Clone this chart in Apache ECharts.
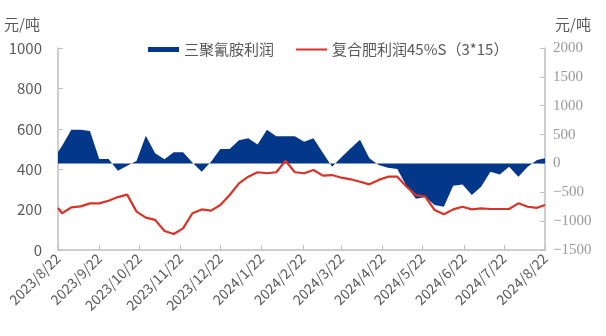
<!DOCTYPE html>
<html>
<head>
<meta charset="utf-8">
<script src="https://cdn.jsdelivr.net/npm/echarts@6/dist/echarts.min.js"></script>
<style>
html,body{margin:0;padding:0;background:#fff;}
#chart{width:606px;height:336px;}
</style>
</head>
<body>
<div id="chart"></div>
<script>
// Dates of observations
var dates = [
  '2023-08-22','2023-08-25','2023-09-01','2023-09-08','2023-09-15','2023-09-22','2023-09-29',
  '2023-10-06','2023-10-13','2023-10-20','2023-10-27','2023-11-03','2023-11-10','2023-11-17',
  '2023-11-24','2023-12-01','2023-12-08','2023-12-15','2023-12-22','2023-12-29','2024-01-05',
  '2024-01-12','2024-01-19','2024-01-26','2024-02-02','2024-02-09','2024-02-16','2024-02-23',
  '2024-03-01','2024-03-08','2024-03-15','2024-03-22','2024-03-29','2024-04-05','2024-04-12',
  '2024-04-19','2024-04-26','2024-05-03','2024-05-10','2024-05-17','2024-05-24','2024-05-31',
  '2024-06-07','2024-06-14','2024-06-21','2024-06-28','2024-07-05','2024-07-12','2024-07-19',
  '2024-07-26','2024-08-02','2024-08-09','2024-08-16','2024-08-22'
];
// 三聚氰胺利润 (right axis)
var melamineProfit = [
  200, 300, 584, 584, 561, 76, 76, -126, -40, 42, 480, 175, 71, 192,
  192, 15, -144, 30, 250, 250, 400, 435, 330, 584, 470, 470, 470,
  376, 435, 186, -57, 106, 262, 411, 88, -28, -74, -97, -395, -610,
  -580, -720, -750, -386, -363, -548, -404, -144, -190, -57, -230, -57, 59, 88
];
// 复合肥利润45%S（3*15） (left axis)
var compoundProfit = [
  209, 182, 211, 216, 231, 231, 244, 262, 274, 190, 160, 149, 94, 79,
  107, 182, 201, 195, 223, 272, 330, 363, 385, 380, 385, 442, 385,
  380, 396, 368, 371, 358, 350, 338, 325, 347, 363, 363, 313, 272,
  264, 198, 177, 201, 214, 201, 206, 203, 203, 203, 231, 214, 209, 223
];
// x-axis tick dates
var tickDates = [
  '2023-08-22','2023-09-22','2023-10-22','2023-11-22','2023-12-22','2024-01-22','2024-02-22',
  '2024-03-22','2024-04-22','2024-05-22','2024-06-22','2024-07-22','2024-08-22'
];
var seriesNames = ['三聚氰胺利润', '复合肥利润45%S（3*15）'];
var unitName = '元/吨';

function ts(s) {
  var p = s.split('-');
  return Date.UTC(+p[0], +p[1] - 1, +p[2]);
}
var tickTs = tickDates.map(ts);
var blueData = dates.map(function (d, i) { return [ts(d), melamineProfit[i]]; });
var redData = dates.map(function (d, i) { return [ts(d), compoundProfit[i]]; });

var BLUE = '#02378a';
var RED = '#d93327';
var AXIS = '#bfbfbf';
var TXT = '#595959';
var SANS = '"Noto Sans CJK SC", "Noto Sans", sans-serif';

var chart = echarts.init(document.getElementById('chart'), null, {renderer: 'canvas'});
chart.setOption({
  animation: false,
  backgroundColor: '#ffffff',
  textStyle: {fontFamily: SANS},
  grid: {left: 58, right: 61, top: 48, bottom: 86, containLabel: false},
  legend: {
    left: 148, top: 42, padding: 0,
    itemWidth: 31, itemHeight: 5, itemGap: 21,
    textStyle: {color: TXT, fontSize: 15, fontFamily: SANS},
    data: [
      {name: seriesNames[0], icon: 'rect'},
      {name: seriesNames[1], itemStyle: {opacity: 0, borderWidth: 0}}
    ]
  },
  xAxis: {
    type: 'value',
    min: tickTs[0],
    max: tickTs[tickTs.length - 1],
    axisLine: {lineStyle: {color: AXIS, width: 1.5}},
    axisTick: {show: true, inside: true, length: 5, lineStyle: {color: AXIS, width: 1}, customValues: tickTs},
    splitLine: {show: false},
    axisLabel: {
      customValues: tickTs,
      rotate: 45,
      margin: 6,
      color: TXT,
      fontSize: 14,
      fontFamily: SANS,
      hideOverlap: false,
      formatter: function (v) {
        var d = new Date(v);
        return d.getUTCFullYear() + '/' + (d.getUTCMonth() + 1) + '/' + d.getUTCDate();
      }
    }
  },
  yAxis: [
    {
      type: 'value', min: 0, max: 1000, interval: 200,
      name: unitName, nameLocation: 'end', nameGap: 16,
      nameTextStyle: {color: TXT, fontSize: 15, fontFamily: SANS, align: 'right', padding: [0, 18, 0, 0]},
      axisLine: {show: true, lineStyle: {color: AXIS, width: 1.5}},
      axisTick: {show: true, inside: true, length: 5, lineStyle: {color: AXIS}},
      splitLine: {show: false},
      axisLabel: {
        color: TXT, fontSize: 15, margin: 16, fontFamily: SANS,
        formatter: function (v) { return String(v); }
      }
    },
    {
      type: 'value', min: -1500, max: 2000, interval: 500,
      name: unitName, nameLocation: 'end', nameGap: 16,
      nameTextStyle: {color: TXT, fontSize: 15, fontFamily: SANS, align: 'left', padding: [0, 0, 0, 10]},
      axisLine: {show: true, lineStyle: {color: AXIS, width: 1.5}},
      axisTick: {show: true, inside: true, length: 5, lineStyle: {color: AXIS}},
      splitLine: {show: false},
      axisLabel: {
        color: '#999999', fontSize: 15, margin: 8, fontFamily: '"Liberation Serif", "DejaVu Serif", serif',
        formatter: function (v) { return String(v).replace('-', '\u2212'); }
      }
    }
  ],
  series: [
    {
      name: seriesNames[0],
      type: 'line',
      yAxisIndex: 1,
      data: blueData,
      symbol: 'none',
      color: BLUE,
      itemStyle: {color: BLUE},
      lineStyle: {width: 0, color: BLUE},
      areaStyle: {color: BLUE, opacity: 1},
      z: 2
    },
    {
      name: seriesNames[1],
      type: 'line',
      yAxisIndex: 0,
      data: redData,
      symbol: 'none',
      color: RED,
      itemStyle: {color: RED},
      lineStyle: {width: 2.2, color: RED},
      z: 3
    }
  ]
});
</script>
</body>
</html>
